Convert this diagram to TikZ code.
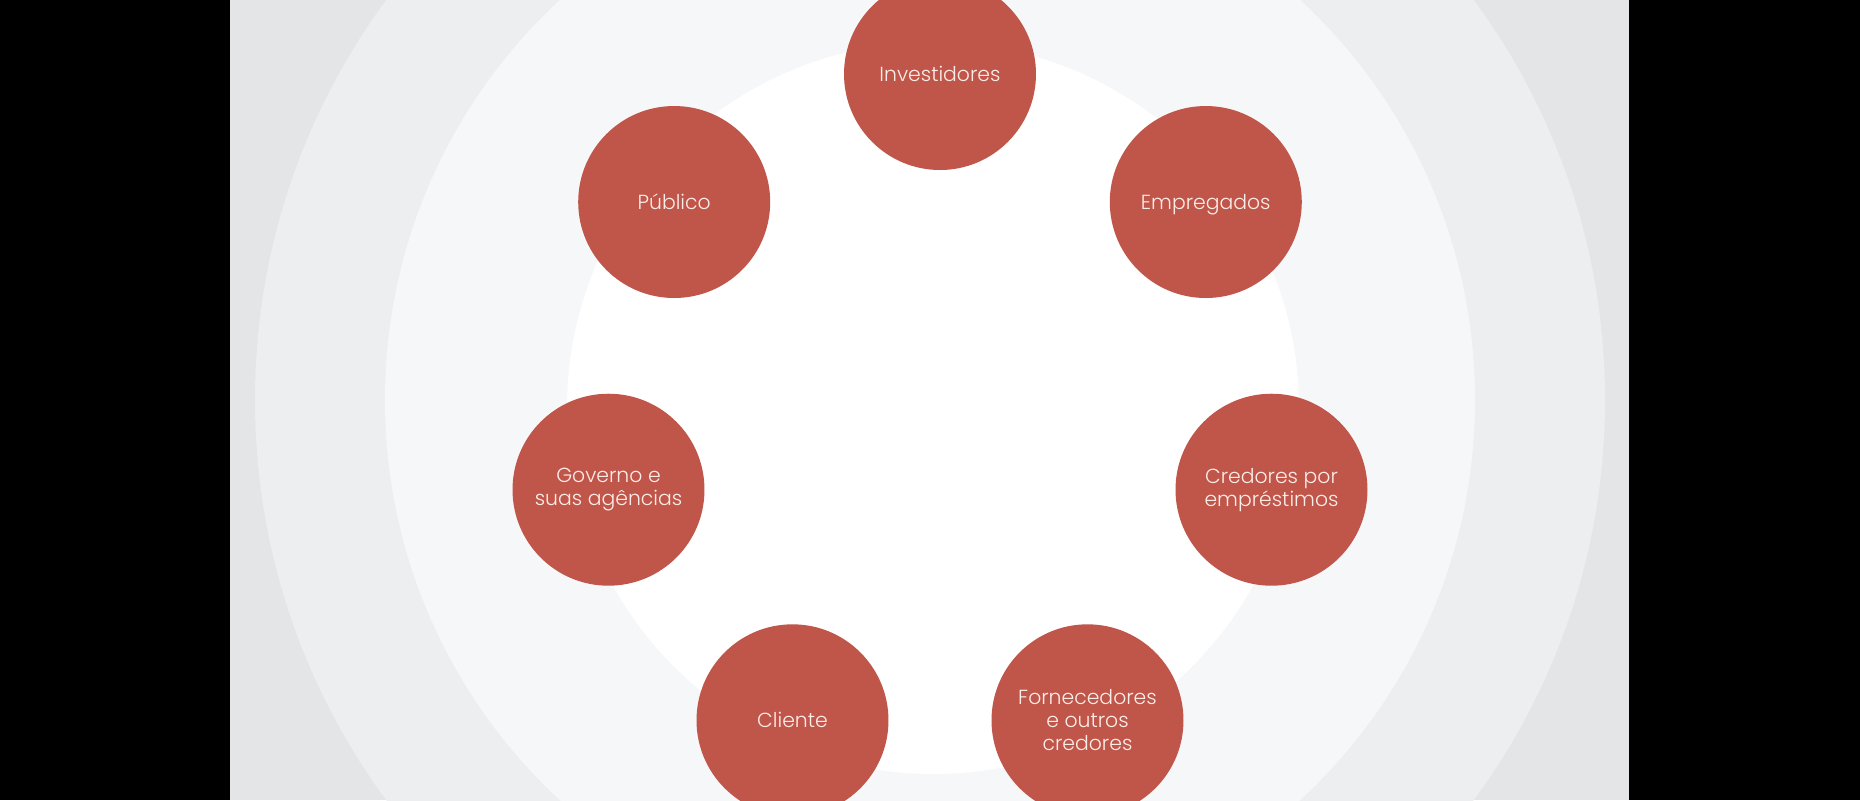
\documentclass[tikz,border=0pt]{standalone}
\usepackage{fontspec}
\setmainfont{Poppins}[UprightFont=* Light]
\definecolor{partred}{HTML}{C0554A}
\definecolor{parttext}{HTML}{FBEDE8}
\definecolor{bgdark}{HTML}{E4E5E7}
\definecolor{bgmid}{HTML}{EDEEF0}
\definecolor{bglight}{HTML}{F6F7F8}

\begin{document}
\begin{tikzpicture}[scale=0.1]
                \tikzstyle{every node}+=[inner sep=0pt]
                \tikzstyle{party}=[circle, fill=partred, minimum size=1.92cm, text=parttext, align=center, font=\fontsize{5.8}{6.6}\selectfont]
                \tikzstyle{oneline}=[text height=4.4pt, text depth=0.4pt]
                \useasboundingbox (0,0) rectangle (186,-80);
                % black side bars and the rings behind
                \fill [black] (0,0) rectangle (186,-80);
                \fill [bgdark] (23,0) rectangle (162.9,-80);
                \begin{scope}
                \clip (23,0) rectangle (162.9,-80);
                \fill [bgmid] (93,-40) circle (67.5);
                \fill [bglight] (93,-40) circle (54.5);
                \fill [white] (93.3,-40.8) circle (36.6);
                \end{scope}
                % stakeholders
                \node [party, oneline] (investidores) at (94,-7.4) {Investidores};
                \node [party, oneline] (publico) at (67.42,-20.2) {Público};
                \node [party, oneline] (empregados) at (120.58,-20.2) {Empregados};
                \node [party] (governo) at (60.85,-48.97) {Governo e\\suas agências};
                \node [party] (credores) at (127.15,-48.97) {Credores por\\empréstimos};
                \node [party, oneline] (cliente) at (79.25,-72.03) {Cliente};
                \node [party] (fornecedores) at (108.75,-72.03) {Fornecedores\\e outros\\credores};
            \end{tikzpicture}
\end{document}
